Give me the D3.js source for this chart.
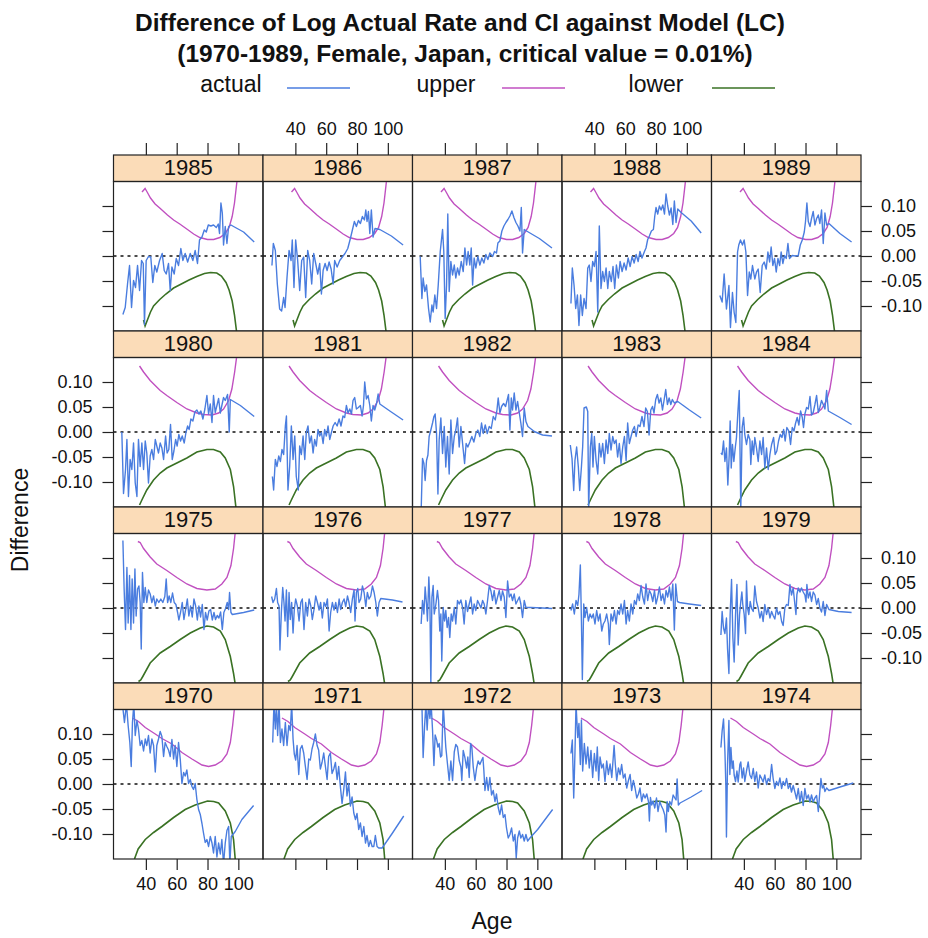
<!DOCTYPE html>
<html>
<head>
<meta charset="utf-8">
<script src="https://cdn.jsdelivr.net/npm/d3@7"></script>
<style>
body { margin: 0; background: #fff; }
text { font-family: "Liberation Sans", Arial, sans-serif; fill: #111; }
</style>
</head>
<body>
<svg width="928" height="938"></svg>
<script>
// Panel layout (years, top row first) and tick values
var panelRows = [
  [1985, 1986, 1987, 1988, 1989],
  [1980, 1981, 1982, 1983, 1984],
  [1975, 1976, 1977, 1978, 1979],
  [1970, 1971, 1972, 1973, 1974]
];
var xTicks = [40, 60, 80, 100];
var xTickLabels = ["40", "60", "80", "100"];
var yTicks = [-0.10, -0.05, 0.00, 0.05, 0.10];
var yTickLabels = ["-0.10", "-0.05", "0.00", "0.05", "0.10"];
var legendLabels = ["actual", "upper", "lower"];

// Confidence bounds, one pair per row of panels: [age, difference]
var upper8589 = [[37.5,0.128],[39.5,0.135],[41,0.127],[43,0.116],[46,0.104],[49,0.096],[54,0.082],[58,0.072],[62,0.064],[67,0.053],[71,0.044],[75,0.037],[80,0.033],[84,0.033],[88,0.037],[91.5,0.045],[94,0.057],[96,0.079],[97.5,0.106],[98.5,0.133],[99.3,0.155]];
var lower8589 = [[38.5,-0.128],[39.5,-0.140],[41,-0.128],[43,-0.112],[45,-0.100],[49,-0.087],[53,-0.076],[58,-0.064],[63,-0.056],[68,-0.048],[73,-0.041],[78,-0.035],[82,-0.033],[86,-0.034],[89,-0.040],[92,-0.053],[94,-0.068],[96,-0.090],[97.5,-0.118],[99,-0.155]];
var upper8084 = [[35.9,0.132],[38.5,0.120],[42.8,0.103],[49.3,0.083],[53.6,0.073],[60.1,0.059],[66.6,0.046],[73.1,0.038],[77.4,0.035],[82.9,0.034],[87.2,0.038],[90.4,0.046],[93.7,0.063],[95.8,0.086],[97.6,0.120],[99.1,0.155]];
var lower8084 = [[35.9,-0.146],[37.4,-0.136],[40.6,-0.116],[45,-0.096],[49.3,-0.082],[53.6,-0.072],[60.1,-0.062],[66.6,-0.052],[73.1,-0.040],[79.6,-0.035],[83.9,-0.035],[88.3,-0.040],[91.5,-0.052],[94.8,-0.075],[96.9,-0.109],[98.4,-0.150]];
var upper7579 = [[34.8,0.133],[36.3,0.131],[38.5,0.119],[42.8,0.102],[47.1,0.088],[53.6,0.075],[60.1,0.061],[66.6,0.048],[73.1,0.039],[79.6,0.036],[85,0.038],[89.3,0.048],[92.6,0.061],[95.2,0.085],[96.9,0.119],[98.1,0.155]];
var lower7579 = [[35.2,-0.147],[36.7,-0.144],[38,-0.137],[42.8,-0.110],[49.3,-0.090],[55.8,-0.077],[62.3,-0.063],[68.8,-0.050],[75.3,-0.040],[79.6,-0.036],[83.9,-0.038],[88.3,-0.046],[91.5,-0.063],[94.8,-0.097],[96.9,-0.131],[98.1,-0.155]];
var upper7074 = [[31.3,0.132],[35.2,0.125],[39.6,0.113],[46.1,0.100],[50.4,0.091],[56.9,0.080],[63.4,0.063],[69.9,0.050],[76.4,0.038],[80.7,0.035],[85,0.038],[89.3,0.046],[92.6,0.060],[94.8,0.083],[96.3,0.117],[97.6,0.155]];
var lower7074 = [[32.6,-0.150],[35,-0.130],[39.6,-0.111],[45,-0.097],[50.4,-0.085],[58,-0.067],[65.5,-0.051],[72,-0.042],[80,-0.034],[84,-0.035],[87.2,-0.038],[91.5,-0.054],[94.8,-0.078],[96.9,-0.111],[98.1,-0.155]];

// Actual minus model, one series per year: [age, difference]
var actual1985 = [[25.1,-0.117],[26.6,-0.103],[28.1,-0.056],[29.4,-0.019],[30.7,-0.103],[32.0,-0.049],[33.3,-0.063],[34.6,-0.019],[35.9,-0.069],[37.2,-0.009],[38.3,-0.015],[39.1,-0.137],[40.2,-0.009],[41.7,-0.001],[43.2,-0.002],[44.5,-0.053],[45.8,-0.019],[47.1,-0.032],[48.9,-0.009],[50.6,0.005],[51.9,-0.029],[53.2,-0.036],[54.7,-0.015],[55.8,-0.069],[56.9,-0.022],[58.4,-0.036],[59.7,-0.005],[61.2,-0.019],[62.7,0.015],[64.0,-0.009],[65.5,0.005],[67.1,-0.012],[68.8,0.005],[70.5,-0.009],[72.0,0.011],[73.5,-0.015],[74.8,0.032],[76.4,0.038],[77.9,0.052],[79.2,0.048],[80.5,0.062],[82.2,0.060],[83.9,0.062],[85.7,0.057],[87.0,0.064],[87.8,0.045],[88.7,0.106],[89.6,0.086],[90.4,0.022],[91.5,0.059],[92.6,0.025],[93.7,0.059],[95.2,0.062],[96.9,0.059],[103.4,0.048],[110.3,0.028]];
var actual1986 = [[24.8,-0.019],[25.7,0.025],[27.0,0.011],[28.3,-0.056],[29.8,-0.106],[31.1,-0.110],[32.4,-0.083],[33.3,-0.103],[34.6,-0.042],[35.9,0.011],[37.2,-0.009],[38.0,0.032],[39.1,-0.063],[40.2,0.032],[41.5,-0.009],[42.8,-0.069],[44.1,-0.009],[45.4,-0.002],[46.7,-0.083],[48.0,0.011],[49.3,-0.009],[50.6,-0.056],[51.9,0.005],[53.2,-0.015],[54.5,-0.036],[55.8,-0.015],[56.9,-0.076],[58.0,-0.029],[59.3,-0.015],[60.6,-0.029],[61.9,-0.012],[63.2,-0.026],[64.5,-0.056],[65.5,-0.009],[67.1,-0.022],[68.8,-0.009],[70.5,-0.002],[72.2,0.005],[74.0,0.015],[75.7,0.035],[77.0,0.052],[78.3,0.069],[79.6,0.059],[80.9,0.071],[82.2,0.065],[83.5,0.079],[84.8,0.072],[85.7,0.092],[86.5,0.069],[87.4,0.089],[88.3,0.045],[89.3,0.092],[90.4,0.038],[91.7,0.055],[94.8,0.053],[102.3,0.040],[109.9,0.022]];
var actual1987 = [[24.0,-0.001],[25.1,-0.085],[25.9,-0.044],[27.0,-0.071],[28.1,-0.058],[29.4,-0.105],[30.5,-0.132],[31.6,-0.098],[32.4,-0.112],[33.5,-0.078],[34.6,-0.105],[35.7,-0.058],[37.0,0.009],[38.5,0.053],[39.3,0.009],[40.2,-0.125],[41.1,-0.058],[41.9,0.084],[42.8,-0.071],[43.9,-0.011],[45.0,-0.038],[46.1,-0.018],[47.1,-0.044],[48.2,-0.024],[49.3,-0.038],[50.6,-0.011],[51.9,-0.031],[53.0,0.016],[54.1,-0.018],[55.1,0.009],[56.2,-0.018],[57.1,0.016],[58.0,-0.058],[59.0,-0.004],[60.1,-0.024],[61.4,-0.001],[62.7,-0.018],[64.0,-0.004],[65.3,-0.014],[66.6,0.003],[67.9,-0.007],[69.2,0.006],[71.0,-0.001],[72.2,0.009],[73.5,0.006],[74.4,0.026],[75.7,0.030],[77.0,0.050],[78.3,0.060],[79.6,0.067],[80.9,0.073],[82.2,0.080],[83.5,0.090],[84.8,0.077],[86.1,0.067],[87.4,0.060],[88.7,0.050],[89.6,0.097],[90.4,0.006],[91.5,0.053],[93.0,0.050],[101.3,0.035],[109.5,0.016]];
var actual1988 = [[24.8,-0.095],[25.7,-0.024],[26.8,-0.058],[27.9,-0.105],[29.0,-0.078],[30.0,-0.139],[31.1,-0.078],[32.2,-0.119],[33.3,-0.085],[34.6,-0.105],[35.7,-0.024],[36.7,-0.018],[37.8,-0.051],[38.9,-0.011],[40.0,-0.021],[41.1,0.009],[42.2,-0.112],[43.2,0.060],[44.3,-0.065],[45.4,-0.031],[46.5,-0.051],[47.6,-0.024],[48.7,-0.065],[49.7,-0.031],[51.0,-0.051],[52.1,-0.021],[53.2,-0.065],[54.3,-0.018],[55.6,-0.044],[56.7,-0.011],[58.0,-0.031],[59.3,-0.014],[60.6,-0.028],[61.9,-0.004],[63.2,-0.021],[64.5,-0.001],[65.8,-0.014],[67.1,0.003],[68.4,-0.011],[69.6,0.009],[70.9,-0.004],[72.5,0.009],[73.5,0.016],[74.6,0.033],[75.7,0.040],[77.0,0.050],[78.3,0.053],[79.2,0.080],[80.0,0.097],[81.1,0.084],[82.2,0.100],[83.3,0.092],[84.4,0.102],[85.5,0.084],[86.5,0.124],[87.6,0.100],[88.7,0.082],[89.8,0.096],[90.9,0.063],[91.9,0.110],[93.0,0.067],[94.1,0.094],[96.3,0.087],[102.8,0.070],[109.3,0.046]];
var actual1989 = [[24.4,-0.079],[25.9,-0.092],[27.2,-0.036],[28.7,-0.106],[30.3,-0.059],[31.3,-0.143],[32.6,-0.073],[33.7,-0.113],[34.8,-0.133],[35.9,0.008],[36.7,0.022],[37.8,0.032],[39.1,0.022],[40.2,0.032],[41.3,0.008],[42.4,-0.079],[43.5,-0.032],[44.5,-0.046],[45.6,-0.019],[47.1,-0.046],[48.2,-0.032],[49.3,-0.026],[50.6,-0.073],[51.9,-0.019],[53.2,-0.012],[54.5,-0.026],[55.6,0.008],[56.7,-0.012],[57.7,0.018],[58.8,-0.019],[59.9,-0.005],[61.0,-0.032],[62.1,-0.005],[63.2,-0.019],[64.2,0.008],[65.3,-0.015],[66.4,0.001],[67.5,-0.005],[68.6,0.025],[69.6,-0.005],[71.4,0.001],[73.5,0.000],[75.3,0.001],[76.6,0.022],[77.9,0.032],[79.2,0.048],[80.0,0.069],[80.9,0.106],[81.8,0.069],[82.9,0.059],[83.9,0.075],[85.0,0.089],[86.1,0.062],[87.2,0.075],[88.3,0.082],[89.3,0.065],[90.4,0.092],[91.5,0.025],[92.6,0.086],[93.7,0.062],[95.2,0.065],[102.3,0.045],[109.9,0.028]];
var actual1980 = [[24.4,0.000],[25.5,-0.123],[26.8,-0.075],[27.7,-0.015],[28.7,-0.129],[29.8,-0.055],[30.9,-0.075],[32.0,-0.022],[33.1,-0.102],[34.2,-0.129],[35.2,-0.015],[36.3,-0.069],[37.4,-0.022],[38.5,-0.075],[39.6,-0.018],[40.6,-0.042],[41.7,-0.102],[42.8,-0.048],[43.9,-0.035],[45.0,-0.055],[46.1,-0.015],[47.1,-0.028],[48.2,-0.042],[49.3,-0.022],[50.4,-0.032],[51.5,-0.055],[52.8,-0.008],[53.8,-0.042],[54.9,-0.035],[56.0,0.015],[57.1,-0.055],[58.2,-0.038],[59.3,-0.015],[60.3,-0.028],[61.4,-0.005],[62.5,-0.018],[63.6,-0.008],[64.9,-0.022],[66.0,-0.001],[67.1,0.012],[68.1,0.005],[69.2,0.026],[70.5,0.022],[71.8,0.040],[73.1,0.044],[74.4,0.036],[75.7,0.042],[77.0,0.026],[78.3,0.046],[79.6,0.073],[80.7,0.036],[81.8,0.056],[82.9,0.019],[83.9,0.073],[85.0,0.039],[86.1,0.053],[87.2,0.067],[88.3,0.038],[89.3,0.053],[90.4,0.069],[91.5,0.063],[93.0,0.075],[94.1,0.000],[94.8,0.065],[101.3,0.053],[110.3,0.031]];
var actual1981 = [[25.1,-0.089],[25.9,-0.116],[27.0,-0.055],[28.1,-0.069],[29.2,-0.048],[30.3,-0.059],[31.3,-0.035],[32.4,-0.045],[33.5,0.012],[34.2,0.032],[35.2,-0.116],[36.3,-0.069],[37.4,0.012],[38.5,-0.055],[39.6,-0.008],[40.6,-0.089],[41.9,-0.116],[42.8,-0.028],[43.9,-0.045],[45.0,-0.008],[46.1,-0.055],[47.1,-0.001],[48.2,0.012],[49.3,-0.022],[50.4,-0.008],[51.5,-0.042],[52.5,-0.015],[53.6,-0.028],[54.7,0.005],[55.8,-0.008],[56.9,-0.001],[58.0,-0.023],[59.0,0.005],[60.1,-0.008],[61.2,0.012],[62.3,-0.015],[63.4,-0.001],[64.5,0.012],[65.8,0.019],[67.1,0.012],[68.4,0.026],[69.6,0.012],[70.9,0.032],[72.0,0.029],[73.1,0.053],[74.2,0.038],[75.3,0.046],[76.4,0.036],[77.4,0.063],[78.5,0.069],[79.6,0.046],[80.9,0.049],[82.2,0.053],[83.3,0.032],[84.2,0.053],[85.0,0.100],[86.1,0.066],[87.2,0.073],[88.3,0.053],[89.3,0.022],[90.4,0.053],[91.5,0.044],[92.6,0.056],[93.7,0.076],[94.8,0.056],[101.3,0.042],[109.9,0.024]];
var actual1982 = [[24.6,-0.160],[25.5,-0.053],[26.4,-0.063],[27.2,-0.097],[28.1,-0.057],[29.0,-0.046],[29.8,-0.009],[30.9,0.004],[32.0,0.018],[32.9,0.031],[33.7,0.036],[34.6,-0.003],[35.5,-0.124],[36.3,-0.016],[37.4,0.028],[38.5,-0.043],[39.6,0.011],[40.6,-0.070],[41.7,-0.009],[42.8,-0.084],[43.9,0.024],[45.0,-0.043],[46.1,-0.009],[47.1,0.004],[48.2,0.028],[49.3,-0.030],[50.4,0.011],[51.5,-0.023],[52.8,-0.063],[53.8,-0.023],[54.9,-0.030],[56.2,-0.020],[57.5,-0.009],[58.8,-0.020],[60.1,-0.003],[61.4,0.004],[62.7,-0.009],[63.8,0.018],[64.9,-0.003],[66.2,0.014],[67.5,-0.003],[68.8,0.011],[70.1,0.007],[71.4,0.031],[72.7,0.024],[73.8,0.044],[74.6,0.068],[75.7,0.038],[76.8,0.051],[78.1,0.057],[79.4,0.051],[80.5,0.065],[81.3,0.075],[82.2,0.004],[83.1,0.068],[83.9,0.044],[85.0,0.078],[86.1,0.044],[87.2,0.061],[88.3,0.038],[89.3,0.018],[90.4,-0.009],[91.5,0.048],[92.6,0.021],[93.9,0.011],[98.0,0.001],[103.4,-0.006],[109.5,-0.008]];
var actual1983 = [[24.4,-0.026],[25.5,-0.053],[26.6,-0.117],[27.4,-0.057],[28.5,-0.030],[29.6,-0.070],[30.5,-0.117],[31.6,-0.070],[32.4,-0.030],[33.3,0.048],[34.8,0.050],[35.7,0.041],[36.3,-0.155],[37.4,-0.030],[38.3,-0.003],[39.1,-0.070],[40.0,-0.009],[41.1,-0.057],[42.2,-0.084],[43.2,-0.023],[44.3,-0.050],[45.4,-0.023],[46.5,-0.063],[47.6,-0.016],[48.7,-0.043],[49.7,-0.003],[50.8,-0.036],[51.9,-0.009],[53.0,-0.023],[54.1,-0.016],[55.1,-0.050],[56.2,-0.023],[57.3,-0.063],[58.4,-0.030],[59.5,-0.009],[60.6,-0.057],[61.6,0.018],[62.7,-0.023],[63.8,-0.009],[64.9,0.004],[66.0,0.011],[67.1,-0.009],[68.4,0.014],[69.6,0.011],[70.9,0.031],[72.2,0.011],[73.3,0.048],[74.4,0.041],[75.5,-0.006],[76.6,0.044],[77.7,0.051],[78.7,0.038],[79.8,0.065],[80.9,0.075],[82.0,0.058],[83.1,0.068],[84.2,0.044],[85.2,0.063],[86.3,0.085],[87.4,0.055],[88.5,0.068],[89.6,0.055],[90.6,0.065],[91.9,0.058],[94.1,0.061],[101.7,0.044],[109.3,0.028]];
var actual1984 = [[25.1,-0.042],[25.9,-0.045],[26.8,-0.018],[27.7,-0.059],[28.7,-0.032],[29.6,-0.106],[30.5,-0.045],[31.1,0.022],[31.8,-0.072],[32.6,-0.025],[33.5,-0.059],[34.4,-0.032],[35.2,-0.011],[36.1,0.039],[37.0,0.083],[37.6,-0.059],[38.0,-0.155],[38.9,0.009],[39.8,0.029],[40.6,-0.005],[41.7,-0.025],[42.8,-0.005],[43.9,-0.015],[44.5,-0.065],[45.4,-0.018],[46.3,-0.045],[47.1,-0.011],[48.2,-0.032],[49.3,-0.059],[50.4,-0.018],[51.5,-0.045],[52.5,-0.011],[53.6,-0.072],[54.7,-0.032],[55.8,-0.075],[56.9,-0.045],[58.0,-0.025],[59.3,-0.011],[60.3,-0.045],[61.4,-0.038],[62.5,-0.018],[63.6,-0.005],[64.7,-0.011],[65.8,0.005],[66.8,-0.018],[67.9,0.009],[69.2,0.002],[70.3,-0.025],[71.4,0.009],[72.5,0.002],[73.5,0.017],[74.6,0.029],[75.7,0.014],[76.8,0.042],[77.9,0.029],[78.7,0.009],[79.6,0.036],[80.7,0.049],[81.8,0.046],[82.9,0.071],[83.9,0.034],[85.0,0.039],[86.1,0.055],[87.2,0.073],[88.3,0.039],[89.3,0.049],[90.4,0.063],[91.5,0.055],[92.6,0.046],[93.7,0.083],[94.8,0.042],[102.3,0.029],[109.9,0.015]];
var actual1975 = [[25.1,0.135],[25.9,0.038],[26.8,-0.043],[27.7,0.081],[28.5,-0.030],[29.4,0.065],[30.3,-0.043],[31.1,0.058],[32.0,-0.030],[32.9,0.078],[33.7,-0.016],[34.6,0.038],[35.5,0.044],[36.3,0.011],[37.0,-0.082],[37.8,0.071],[38.7,0.011],[39.6,0.041],[40.6,0.011],[41.7,0.036],[42.8,0.028],[43.9,0.011],[45.0,0.024],[46.1,0.004],[47.1,0.018],[48.4,0.011],[49.7,0.018],[51.0,0.011],[52.3,0.023],[53.2,0.058],[54.1,0.011],[55.1,0.024],[56.2,0.011],[57.3,0.030],[58.4,0.011],[59.5,0.007],[60.6,-0.009],[61.4,-0.024],[62.5,-0.009],[63.6,0.011],[64.7,-0.023],[65.8,-0.003],[66.9,0.018],[67.9,-0.016],[69.0,0.004],[70.1,-0.018],[71.2,0.018],[72.3,0.004],[73.4,-0.024],[74.4,0.004],[75.5,-0.018],[76.6,0.007],[77.7,-0.043],[78.7,-0.009],[79.8,-0.024],[80.9,-0.006],[82.0,-0.003],[83.1,-0.024],[84.2,-0.009],[85.2,-0.023],[86.3,-0.015],[87.4,-0.020],[88.5,-0.008],[89.6,-0.043],[90.6,-0.009],[91.7,-0.001],[92.8,0.011],[93.7,-0.003],[94.3,0.031],[95.2,-0.009],[96.1,-0.013],[103.4,-0.009],[110.3,-0.004]];
var actual1976 = [[24.6,0.023],[25.5,0.011],[26.6,0.018],[27.7,0.039],[28.5,0.011],[29.4,0.004],[30.0,-0.084],[30.9,-0.009],[31.8,0.041],[32.6,0.011],[33.3,-0.026],[34.2,0.036],[35.0,-0.057],[35.9,0.031],[36.7,-0.023],[37.6,0.011],[38.5,-0.050],[39.3,-0.003],[40.2,0.018],[41.3,0.004],[42.4,-0.026],[43.5,0.011],[44.5,0.018],[45.6,-0.043],[46.7,0.011],[47.8,-0.016],[48.9,0.018],[50.0,0.004],[51.0,-0.023],[52.1,-0.003],[53.2,0.024],[54.3,0.011],[55.4,-0.004],[56.4,0.011],[57.5,-0.020],[58.6,0.011],[59.7,0.003],[60.8,0.018],[61.9,-0.046],[62.9,-0.009],[64.0,0.011],[65.1,-0.004],[66.2,0.011],[67.3,-0.009],[68.4,0.018],[69.4,-0.003],[70.5,0.011],[71.6,0.018],[72.7,0.003],[73.8,0.024],[74.8,0.011],[75.9,-0.009],[77.0,0.018],[78.1,0.036],[78.7,-0.026],[79.6,0.031],[80.5,0.039],[81.3,0.011],[82.4,0.018],[83.5,0.044],[84.6,0.031],[85.7,0.003],[86.7,0.031],[87.8,0.018],[88.9,0.024],[90.0,0.044],[91.1,0.031],[92.2,0.011],[93.2,-0.016],[94.3,0.011],[95.4,0.019],[103.0,0.016],[109.5,0.012]];
var actual1977 = [[24.6,-0.032],[25.5,0.015],[26.4,-0.012],[27.2,0.042],[28.1,0.008],[28.7,-0.026],[29.6,0.062],[30.3,0.008],[30.9,-0.155],[31.6,0.022],[32.4,0.045],[33.1,-0.012],[34.2,0.008],[35.2,0.035],[35.9,0.015],[36.7,-0.046],[37.4,-0.012],[38.0,-0.106],[38.9,0.001],[39.8,-0.026],[40.6,-0.005],[41.5,-0.039],[42.4,-0.019],[43.2,-0.059],[44.1,-0.012],[45.0,-0.026],[46.1,0.001],[47.1,-0.032],[48.2,0.015],[49.3,0.008],[50.4,0.016],[51.5,0.001],[52.5,-0.032],[53.6,0.015],[54.7,-0.007],[55.8,0.008],[56.9,0.022],[58.0,-0.012],[59.0,0.008],[60.1,-0.005],[61.2,0.015],[62.3,0.008],[63.4,0.000],[64.5,0.015],[65.5,0.008],[66.6,-0.012],[67.7,0.015],[68.8,0.045],[69.9,0.034],[70.9,0.015],[72.0,0.035],[73.1,0.008],[74.2,0.022],[75.3,0.035],[76.4,0.015],[77.4,0.034],[78.5,0.022],[79.6,-0.019],[80.7,0.054],[81.8,0.022],[82.9,0.028],[83.9,0.015],[85.0,0.028],[86.1,0.008],[87.2,0.015],[88.3,0.022],[89.3,0.008],[90.4,-0.019],[91.5,0.015],[92.6,0.001],[95.8,0.001],[103.4,0.000],[109.5,-0.001]];
var actual1978 = [[24.8,-0.005],[25.9,0.008],[27.0,-0.012],[28.1,0.015],[29.2,0.005],[30.0,0.027],[30.9,0.086],[31.6,-0.026],[32.2,-0.143],[33.1,0.008],[33.9,-0.019],[35.0,0.001],[36.1,-0.026],[37.2,-0.012],[38.3,-0.020],[39.3,-0.012],[40.4,-0.032],[41.5,-0.005],[42.6,-0.026],[43.7,-0.012],[44.8,-0.046],[45.8,-0.032],[46.9,-0.026],[48.0,-0.012],[49.1,-0.032],[49.7,-0.073],[50.8,-0.012],[51.9,-0.026],[53.0,-0.005],[54.1,-0.032],[55.1,-0.005],[56.2,-0.013],[57.3,0.008],[58.4,-0.012],[59.5,0.015],[60.6,-0.032],[61.6,-0.005],[62.7,-0.026],[63.8,0.008],[64.9,-0.012],[66.0,0.015],[67.1,0.007],[68.1,0.028],[69.2,0.015],[70.3,0.045],[71.4,0.022],[72.5,0.008],[73.5,0.048],[74.6,0.015],[75.7,0.035],[76.8,0.028],[77.9,0.013],[79.0,0.035],[80.0,0.008],[81.1,0.022],[82.2,0.042],[83.3,0.015],[84.4,0.028],[85.5,0.008],[86.5,0.035],[87.6,0.022],[88.7,0.042],[89.8,0.015],[90.9,0.048],[91.9,-0.044],[92.8,0.048],[93.9,0.013],[95.2,0.011],[101.7,0.008],[109.3,0.005]];
var actual1979 = [[25.1,-0.054],[25.9,-0.007],[26.8,-0.040],[27.7,-0.051],[28.7,-0.020],[29.4,-0.081],[30.3,-0.131],[31.1,-0.013],[32.0,0.057],[32.9,-0.061],[33.7,-0.108],[34.6,-0.013],[35.5,0.047],[36.3,-0.074],[37.2,-0.013],[38.0,0.013],[38.7,0.032],[39.3,0.007],[40.2,-0.013],[41.1,-0.051],[41.7,0.054],[42.4,0.000],[43.2,-0.013],[44.1,0.013],[45.0,-0.001],[46.1,-0.007],[47.1,0.044],[48.2,0.013],[49.3,0.000],[50.4,-0.020],[51.5,-0.007],[52.5,-0.027],[53.6,0.007],[54.7,-0.013],[55.8,0.000],[56.9,-0.020],[58.0,-0.007],[59.0,-0.015],[60.1,-0.022],[61.2,0.000],[62.3,-0.013],[63.4,-0.007],[64.5,-0.027],[65.5,-0.035],[66.6,0.000],[67.7,0.007],[68.8,0.005],[69.9,0.047],[70.9,0.026],[72.0,0.040],[73.1,0.007],[73.8,-0.013],[74.4,0.027],[75.3,0.040],[76.4,0.032],[77.4,0.040],[78.5,0.032],[79.6,0.026],[80.3,0.012],[80.9,0.047],[81.8,0.020],[82.9,0.032],[83.9,0.013],[85.0,0.032],[86.1,0.026],[87.2,0.007],[88.3,0.019],[89.3,0.000],[90.4,-0.008],[91.5,0.013],[92.6,-0.015],[93.7,0.007],[95.2,-0.003],[101.3,-0.007],[109.9,-0.009]];
var actual1970 = [[24.8,0.160],[26.1,0.123],[27.4,0.160],[28.5,0.117],[29.6,0.083],[30.5,0.035],[31.3,0.123],[32.2,0.160],[33.1,0.097],[34.2,0.127],[35.2,0.110],[36.3,0.077],[37.4,0.087],[38.5,0.066],[39.6,0.090],[40.6,0.077],[41.7,0.097],[42.8,0.062],[43.9,0.090],[45.0,0.077],[46.1,0.024],[47.1,0.077],[48.2,0.090],[49.3,0.105],[50.4,0.095],[51.5,0.055],[52.5,0.083],[53.6,0.075],[54.7,0.068],[55.8,0.055],[56.9,0.089],[58.0,0.050],[59.0,0.077],[60.1,0.035],[61.2,0.083],[62.3,0.050],[63.4,0.001],[64.5,0.023],[65.5,0.016],[66.6,0.028],[67.7,0.001],[68.8,0.009],[69.9,-0.005],[70.9,-0.011],[72.0,0.001],[73.1,-0.031],[74.2,-0.051],[75.3,-0.061],[76.4,-0.079],[77.4,-0.098],[78.5,-0.117],[79.6,-0.111],[80.7,-0.125],[81.8,-0.105],[82.9,-0.118],[83.9,-0.138],[85.0,-0.105],[86.1,-0.146],[87.2,-0.118],[88.3,-0.140],[89.3,-0.111],[90.4,-0.160],[91.5,-0.118],[92.6,-0.093],[93.7,-0.085],[94.5,-0.160],[95.4,-0.105],[98.0,-0.095],[102.3,-0.071],[109.9,-0.043]];
var actual1971 = [[25.3,0.083],[26.1,0.160],[27.0,0.110],[27.7,0.160],[28.5,0.097],[29.4,0.160],[30.3,0.083],[31.3,0.110],[32.4,0.077],[33.5,0.123],[34.6,0.077],[35.7,0.117],[36.7,0.107],[37.6,0.160],[38.5,0.090],[39.3,0.060],[40.2,0.048],[41.1,0.077],[42.2,0.019],[43.2,0.070],[44.3,0.077],[45.4,0.062],[46.5,0.035],[47.6,0.009],[48.7,0.050],[49.7,0.048],[50.8,0.070],[51.9,0.083],[53.0,0.100],[54.1,0.077],[55.1,0.068],[56.2,0.030],[57.3,0.043],[58.4,0.062],[59.5,0.035],[60.6,0.009],[61.6,0.055],[62.7,0.062],[63.8,0.021],[64.9,0.030],[66.0,0.043],[67.1,0.009],[68.1,0.035],[69.2,-0.005],[70.3,-0.039],[71.4,-0.011],[72.5,0.024],[73.5,-0.024],[74.6,0.001],[75.7,-0.044],[76.8,-0.026],[77.9,-0.058],[79.0,-0.071],[80.0,-0.059],[81.1,-0.091],[82.2,-0.078],[83.3,-0.105],[84.4,-0.085],[85.5,-0.118],[86.5,-0.103],[87.6,-0.125],[88.7,-0.113],[89.8,-0.125],[90.9,-0.125],[91.9,-0.103],[93.0,-0.125],[94.1,-0.128],[96.3,-0.128],[102.8,-0.099],[110.3,-0.064]];
var actual1972 = [[25.1,0.160],[25.9,0.053],[26.8,0.114],[27.7,0.160],[28.5,0.108],[29.4,0.160],[30.3,0.131],[31.1,0.160],[32.0,0.108],[32.9,0.037],[33.7,0.098],[34.6,0.089],[35.5,0.074],[36.3,0.081],[37.2,0.054],[38.0,0.057],[38.9,0.160],[39.8,0.114],[40.6,0.074],[41.7,0.040],[42.8,0.007],[43.9,0.046],[45.0,0.007],[46.1,0.064],[47.1,0.079],[48.2,0.074],[49.3,0.047],[50.4,0.034],[51.0,0.007],[51.9,0.067],[53.0,0.053],[54.1,0.032],[54.9,0.054],[55.8,0.013],[56.7,0.081],[57.5,0.074],[58.4,0.034],[59.5,0.007],[60.6,0.032],[61.6,0.046],[62.7,0.039],[63.8,0.047],[64.7,0.053],[65.3,0.027],[66.0,-0.013],[67.1,0.013],[68.1,-0.013],[69.2,0.013],[70.3,-0.022],[71.4,-0.013],[72.5,-0.035],[73.5,-0.020],[74.6,-0.047],[75.7,-0.061],[76.8,-0.042],[77.9,-0.067],[79.0,-0.061],[80.0,-0.088],[81.1,-0.108],[82.2,-0.101],[83.3,-0.088],[84.4,-0.114],[85.5,-0.101],[86.3,-0.148],[87.2,-0.108],[88.3,-0.094],[89.3,-0.108],[90.4,-0.101],[91.5,-0.114],[92.6,-0.101],[93.7,-0.114],[95.2,-0.108],[100.2,-0.091],[109.9,-0.051]];
var actual1973 = [[24.8,0.061],[25.7,0.088],[26.6,-0.028],[27.4,0.061],[28.1,0.160],[29.2,0.093],[30.0,0.121],[30.9,0.039],[31.6,0.128],[32.4,0.026],[33.5,0.081],[34.6,0.040],[35.7,0.074],[36.7,0.032],[37.8,0.067],[38.9,0.013],[40.0,0.061],[41.1,0.026],[41.9,0.074],[42.8,0.007],[43.7,0.054],[44.8,0.032],[45.8,0.040],[46.9,0.005],[48.0,0.046],[49.1,0.019],[50.2,0.040],[51.3,0.013],[52.1,0.047],[52.8,0.077],[53.6,0.039],[54.5,0.007],[55.6,0.032],[56.7,0.019],[57.7,0.039],[58.8,0.012],[59.9,0.020],[61.0,-0.008],[62.1,0.007],[63.2,0.019],[64.2,-0.013],[65.3,0.007],[66.4,-0.008],[67.5,-0.028],[68.6,-0.020],[69.6,-0.008],[70.7,-0.035],[71.8,-0.020],[72.9,-0.028],[74.0,-0.020],[75.1,-0.035],[75.7,-0.074],[76.4,-0.027],[77.2,-0.042],[78.1,-0.034],[79.2,-0.048],[80.3,-0.028],[81.3,-0.055],[82.4,-0.035],[83.5,-0.044],[84.6,-0.051],[85.7,-0.062],[86.5,-0.096],[87.2,-0.035],[88.0,-0.055],[88.9,-0.035],[90.0,-0.042],[91.1,-0.022],[92.2,-0.028],[93.0,-0.032],[93.7,0.010],[94.5,-0.042],[95.6,-0.038],[102.8,-0.026],[109.9,-0.013]];
var actual1974 = [[25.1,0.073],[25.9,0.106],[26.8,0.130],[27.7,0.066],[28.3,-0.001],[28.7,-0.106],[29.4,0.039],[30.3,0.127],[30.9,0.019],[31.6,0.073],[32.4,0.031],[33.1,0.046],[33.7,0.018],[34.6,0.005],[35.5,0.026],[36.3,0.004],[37.4,0.039],[38.0,0.044],[38.9,0.012],[39.8,0.032],[40.6,0.005],[41.7,0.026],[42.8,0.044],[43.9,0.018],[45.0,0.011],[46.1,0.031],[47.1,0.005],[48.2,0.024],[49.3,-0.008],[50.4,0.018],[51.5,0.011],[52.5,0.004],[53.6,0.018],[54.7,-0.001],[55.8,0.011],[56.9,0.005],[58.0,0.039],[59.0,0.011],[60.1,-0.009],[61.2,0.005],[62.3,-0.003],[63.4,0.012],[64.5,-0.009],[65.5,0.005],[66.6,-0.003],[67.7,0.011],[68.8,-0.009],[69.9,-0.001],[70.9,-0.016],[72.0,-0.003],[73.1,-0.016],[74.2,-0.030],[75.3,-0.009],[76.4,-0.036],[77.4,-0.015],[78.5,-0.043],[79.6,-0.009],[80.7,-0.030],[81.8,-0.022],[82.9,-0.036],[83.9,-0.022],[85.0,-0.036],[86.1,-0.028],[87.2,-0.023],[88.3,-0.055],[89.3,-0.015],[90.0,0.011],[90.9,-0.008],[91.7,-0.003],[92.6,-0.015],[93.7,-0.008],[95.2,-0.013],[103.4,-0.005],[111.0,0.002]];

// lookup tables built from the arrays above
var actualByYear = {
  1970: actual1970, 1971: actual1971, 1972: actual1972, 1973: actual1973, 1974: actual1974,
  1975: actual1975, 1976: actual1976, 1977: actual1977, 1978: actual1978, 1979: actual1979,
  1980: actual1980, 1981: actual1981, 1982: actual1982, 1983: actual1983, 1984: actual1984,
  1985: actual1985, 1986: actual1986, 1987: actual1987, 1988: actual1988, 1989: actual1989
};
var upperByRow = [upper8589, upper8084, upper7579, upper7074];
var lowerByRow = [lower8589, lower8084, lower7579, lower7074];

var colors = { actual: "#4a7ddf", upper: "#c050c0", lower: "#3a7224" };
var stripFill = "#fbdcb8";

var svg = d3.select("svg");
var gridLeft = 113.5, gridTop = 155,
    colW = 149.5, stripH = 26.5, panelH = 149.5,
    rowH = stripH + panelH;

var x = d3.scaleLinear().domain([19, 116]).range([0, colW]);
var y = d3.scaleLinear().domain([-0.150, 0.149]).range([panelH, 0]);
var line = d3.line()
  .x(function(d) { return x(d[0]); })
  .y(function(d) { return y(d[1]); });

var nRows = panelRows.length, nCols = panelRows[0].length;

panelRows.forEach(function(rowYears, r) {
  rowYears.forEach(function(year, c) {
    var g = svg.append("g")
      .attr("transform", "translate(" + (gridLeft + c * colW) + "," + (gridTop + r * rowH) + ")");

    // strip with the year
    g.append("rect")
      .attr("width", colW).attr("height", stripH)
      .attr("fill", stripFill).attr("stroke", "#222").attr("stroke-width", 1.2);
    g.append("text")
      .attr("x", colW / 2).attr("y", stripH / 2 + 1)
      .attr("text-anchor", "middle").attr("dominant-baseline", "middle")
      .style("font-size", "22px")
      .text(year);

    var p = g.append("g").attr("transform", "translate(0," + stripH + ")");
    var clipId = "clip" + year;
    p.append("clipPath").attr("id", clipId)
      .append("rect").attr("width", colW).attr("height", panelH);

    var plot = p.append("g").attr("clip-path", "url(#" + clipId + ")");
    plot.append("line")
      .attr("x1", 0).attr("x2", colW)
      .attr("y1", y(0)).attr("y2", y(0))
      .attr("stroke", "#111").attr("stroke-width", 1.4)
      .attr("stroke-dasharray", "3,4");
    plot.append("path").datum(upperByRow[r])
      .attr("d", line).attr("fill", "none")
      .attr("stroke", colors.upper).attr("stroke-width", 1.4);
    plot.append("path").datum(lowerByRow[r])
      .attr("d", line).attr("fill", "none")
      .attr("stroke", colors.lower).attr("stroke-width", 1.6);
    plot.append("path").datum(actualByYear[year])
      .attr("d", line).attr("fill", "none")
      .attr("stroke", colors.actual).attr("stroke-width", 1.4)
      .attr("stroke-linejoin", "round");

    p.append("rect")
      .attr("width", colW).attr("height", panelH)
      .attr("fill", "none").attr("stroke", "#222").attr("stroke-width", 1.2);

    // axes on the outer sides, labels alternate like lattice
    function styleAxis(a) {
      a.select(".domain").remove();
      a.selectAll(".tick line").attr("stroke", "#222").attr("stroke-width", 1.2);
      a.selectAll(".tick text").style("font-size", "18px").attr("fill", "#111")
        .style("font-family", "'Liberation Sans', Arial, sans-serif");
    }
    var xFmt = function(d, i) { return xTickLabels[i]; };
    var yFmt = function(d, i) { return yTickLabels[i]; };

    if (r === 0) {
      var top = g.append("g").call(d3.axisTop(x).tickValues(xTicks).tickSize(12).tickPadding(8)
        .tickFormat(c % 2 === 1 ? xFmt : ""));
      styleAxis(top);
    }
    if (r === nRows - 1) {
      var bot = p.append("g").attr("transform", "translate(0," + panelH + ")")
        .call(d3.axisBottom(x).tickValues(xTicks).tickSize(11).tickPadding(7)
        .tickFormat(c % 2 === 0 ? xFmt : ""));
      styleAxis(bot);
    }
    if (c === 0) {
      var left = p.append("g").call(d3.axisLeft(y).tickValues(yTicks).tickSize(11).tickPadding(10)
        .tickFormat(r % 2 === 1 ? yFmt : ""));
      styleAxis(left);
    }
    if (c === nCols - 1) {
      var right = p.append("g").attr("transform", "translate(" + colW + ",0)")
        .call(d3.axisRight(y).tickValues(yTicks).tickSize(11).tickPadding(9)
        .tickFormat(r % 2 === 0 ? yFmt : ""));
      styleAxis(right);
    }
  });
});

// Title
svg.append("text")
  .attr("x", 460).attr("y", 31)
  .attr("text-anchor", "middle")
  .style("font-size", "24.5px").style("font-weight", "bold")
  .text("Difference of Log Actual Rate and CI against Model (LC)");
svg.append("text")
  .attr("x", 465).attr("y", 62)
  .attr("text-anchor", "middle")
  .style("font-size", "24.5px").style("font-weight", "bold")
  .text("(1970-1989, Female, Japan, critical value = 0.01%)");

// Legend
var legendX = [231, 446, 656];
legendLabels.forEach(function(name, i) {
  svg.append("text")
    .attr("x", legendX[i]).attr("y", 86)
    .attr("text-anchor", "middle").attr("dominant-baseline", "middle")
    .style("font-size", "23px")
    .text(name);
  svg.append("line")
    .attr("x1", legendX[i] + 56).attr("x2", legendX[i] + 119)
    .attr("y1", 88).attr("y2", 88)
    .attr("stroke", colors[name]).attr("stroke-width", 1.4);
});

// Axis titles
svg.append("text")
  .attr("x", 492).attr("y", 923)
  .attr("text-anchor", "middle").attr("dominant-baseline", "middle")
  .style("font-size", "23px")
  .text("Age");
svg.append("text")
  .attr("transform", "translate(22,520) rotate(-90)")
  .attr("text-anchor", "middle").attr("dominant-baseline", "middle")
  .style("font-size", "23px")
  .text("Difference");
</script>
</body>
</html>
